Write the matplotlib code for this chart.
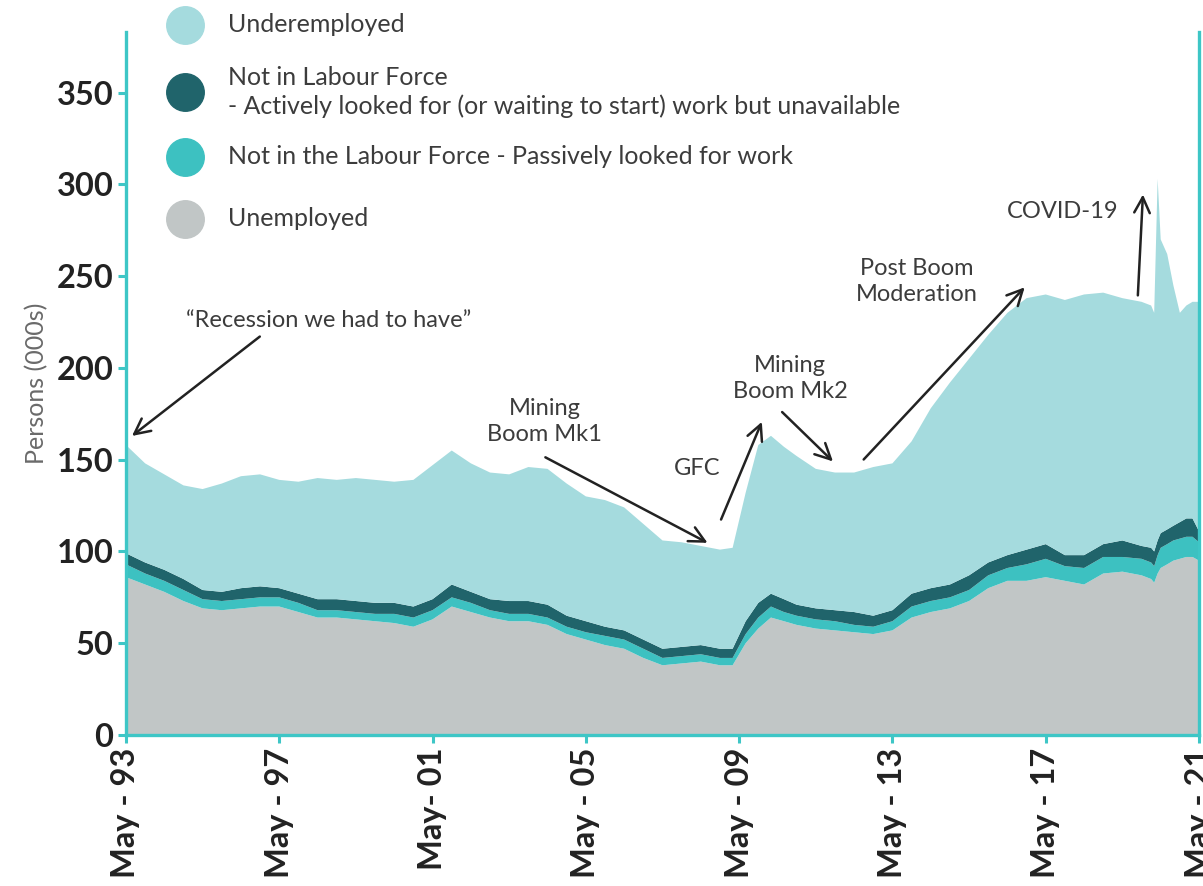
"""Stacked area chart of underutilised persons, May 1993 - May 2021."""
import matplotlib
matplotlib.use("Agg")
import matplotlib.pyplot as plt
from matplotlib.lines import Line2D
import numpy as np

# years since May 1993 (semi-annual, denser around GFC and COVID)
t_offsets = [
    0, 0.5, 1, 1.5, 2, 2.5, 3, 3.5, 4, 4.5, 5, 5.5, 6, 6.5, 7, 7.5, 8, 8.5,
    9, 9.5, 10, 10.5, 11, 11.5, 12, 12.5, 13, 13.5, 14, 14.5, 15, 15.5,
    15.83, 16.17, 16.5, 16.83, 17.17, 17.5, 18, 18.5, 19, 19.5, 20, 20.5,
    21, 21.5, 22, 22.5, 23, 23.5, 24, 24.5, 25, 25.5, 26, 26.5, 26.75, 26.83,
    26.92, 27.0, 27.17, 27.33, 27.5, 27.67, 27.83, 28,
]
unemployed = [
    86, 82, 78, 73, 69, 68, 69, 70, 70, 67, 64, 64, 63, 62, 61, 59, 63, 70,
    67, 64, 62, 62, 60, 55, 52, 49, 47, 42, 38, 39, 40, 38,
    38, 50, 58, 64, 62, 60, 58, 57, 56, 55, 57, 64,
    67, 69, 73, 80, 84, 84, 86, 84, 82, 88, 89, 87, 85, 83,
    88, 91, 93, 95, 96, 97, 97, 95,
]
passive = [
    7, 6, 6, 6, 5, 5, 5, 5, 5, 5, 4, 4, 4, 4, 5, 5, 5, 5,
    5, 4, 4, 4, 4, 4, 4, 5, 5, 5, 4, 4, 4, 4,
    4, 5, 6, 6, 5, 5, 5, 5, 4, 4, 5, 6,
    6, 6, 6, 7, 7, 9, 10, 8, 9, 9, 8, 9, 9, 9,
    10, 11, 11, 11, 11, 11, 11, 10,
]
active_unavail = [
    6, 6, 6, 6, 5, 5, 6, 6, 5, 5, 6, 6, 6, 6, 6, 6, 6, 7,
    6, 6, 7, 7, 7, 6, 6, 5, 5, 5, 5, 5, 5, 5,
    5, 7, 8, 7, 7, 6, 6, 6, 7, 6, 6, 7,
    7, 7, 8, 7, 7, 8, 8, 6, 7, 7, 9, 7, 8, 8,
    8, 8, 8, 8, 9, 10, 10, 6,
]
underemployed = [
    59, 54, 52, 51, 55, 59, 61, 61, 59, 61, 66, 65, 67, 67, 66, 69, 73, 73,
    70, 69, 69, 73, 74, 72, 68, 69, 67, 63, 59, 57, 54, 54,
    55, 70, 86, 86, 83, 81, 76, 75, 76, 81, 80, 83,
    98, 110, 118, 124, 132, 137, 136, 139, 142, 137, 132, 133, 132, 130,
    197, 160, 150, 131, 114, 116, 118, 125,
]

tick_years = [1993, 1997, 2001, 2005, 2009, 2013, 2017, 2021]
tick_labels = ["May - 93", "May - 97", "May- 01", "May - 05", "May - 09",
               "May - 13", "May - 17", "May - 21"]
y_ticks = [0, 50, 100, 150, 200, 250, 300, 350]

legend_labels = [
    "Underemployed",
    "Not in Labour Force\n- Actively looked for (or waiting to start) work but unavailable",
    "Not in the Labour Force - Passively looked for work",
    "Unemployed",
]

C_UNDER = "#a5dbde"
C_ACTIVE = "#20646b"
C_PASSIVE = "#3dc1c1"
C_UNEMP = "#c1c6c6"
C_SPINE = "#3ec6c6"
C_TEXT = "#3c3c3c"

plt.rcParams["font.family"] = ["Lato", "DejaVu Sans"]

start = 1993 + 4 / 12
x = start + np.array(t_offsets)

fig = plt.figure(figsize=(12.03, 8.86), dpi=100)
ax = fig.add_axes([0.1047, 0.1704, 0.892, 0.7935])

ax.stackplot(
    x, unemployed, passive, active_unavail, underemployed,
    colors=[C_UNEMP, C_PASSIVE, C_ACTIVE, C_UNDER], linewidth=0,
)

ax.set_xlim(start, start + 28)
ax.set_ylim(0, 383)
ax.set_yticks(y_ticks)
ax.set_yticklabels([str(v) for v in y_ticks], fontsize=23.5, fontweight="bold",
                   color="#222222")
ax.set_xticks([yr + 4 / 12 for yr in tick_years])
ax.set_xticklabels(tick_labels, rotation=90, fontsize=23.5, fontweight="bold",
                   color="#222222")
ax.tick_params(axis="both", color=C_SPINE, width=2.2, length=6)
ax.tick_params(axis="x", pad=3)
ax.tick_params(axis="y", pad=3)

for side in ["left", "right", "bottom"]:
    ax.spines[side].set_color(C_SPINE)
    ax.spines[side].set_linewidth(2.4)
ax.spines["top"].set_visible(False)

ax.set_ylabel("Persons (000s)", fontsize=18, color="#6a6a6a", labelpad=6)

# legend drawn as circles plus text in figure coords
leg_y = [25, 92, 157, 219]
leg_colors = [C_UNDER, C_ACTIVE, C_PASSIVE, C_UNEMP]
W, H = 1203, 886
for yy, col, lab in zip(leg_y, leg_colors, legend_labels):
    fig.add_artist(Line2D([185 / W], [1 - yy / H], marker="o", markersize=27,
                          color=col, linestyle="none",
                          transform=fig.transFigure))
    fig.text(228 / W, 1 - yy / H, lab, fontsize=18, color=C_TEXT,
             va="center", ha="left", linespacing=1.3)


def ann(text, xy, xytext_arrow, text_pos):
    ax.annotate(
        "", xy=(start + xy[0], xy[1]),
        xytext=(start + xytext_arrow[0], xytext_arrow[1]),
        arrowprops=dict(arrowstyle="->", color="#222222", lw=1.8,
                        mutation_scale=28),
    )
    ax.text(start + text_pos[0], text_pos[1], text, fontsize=17,
            color=C_TEXT, ha="center", va="center", linespacing=1.3)


ann("\u201cRecession we had to have\u201d", (0.1, 162), (3.55, 218), (5.3, 226))
ann("Mining\nBoom Mk1", (15.24, 104), (10.88, 152), (10.93, 171))
ann("GFC", (16.62, 172), (15.5, 116), (14.9, 145))
ann("Mining\nBoom Mk2", (18.5, 148), (17.07, 177), (17.33, 194))
ann("Post Boom\nModeration", (23.5, 245), (19.2, 149), (20.64, 247))
ann("COVID-19", (26.54, 296), (26.4, 238), (24.45, 285))

fig.savefig("out.png", dpi=100)
